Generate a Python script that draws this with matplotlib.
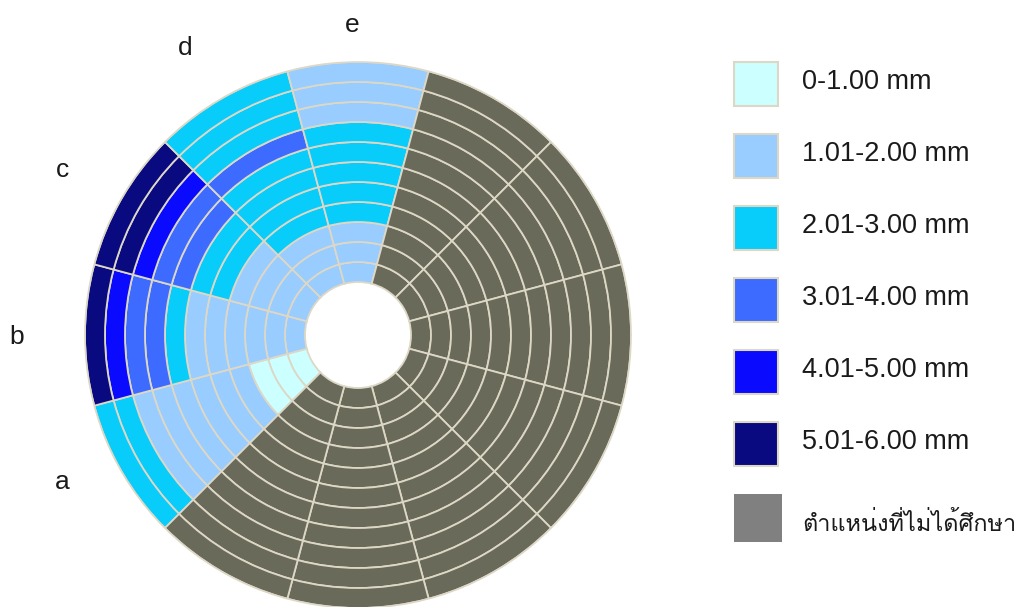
import matplotlib
matplotlib.use("Agg")
import matplotlib.pyplot as plt
from matplotlib import font_manager
from matplotlib.patches import Rectangle
import numpy as np

# Thickness classes, index used in the ring lists below
class_labels = ["0-1.00 mm", "1.01-2.00 mm", "2.01-3.00 mm", "3.01-4.00 mm",
                "4.01-5.00 mm", "5.01-6.00 mm", "ตำแหน่งที่ไม่ได้ศึกษา"]
class_colors = ["#CCFFFF", "#99CCFF", "#08CCFA", "#3D6BFF", "#0A0AFF", "#0A0A80", "#6A6A5B"]
legend_colors = class_colors[:-1] + ["#808080"]
NOT_STUDIED = 6

# Class of each ring, listed from the inner ring to the outer ring
sector_names = ["a", "b", "c", "d", "e"]
sector_a = [0, 0, 0, 1, 1, 1, 1, 1, 1, 2, 2]
sector_b = [1, 1, 1, 1, 1, 1, 2, 3, 3, 4, 5]
sector_c = [1, 1, 1, 1, 2, 2, 3, 3, 4, 5, 5]
sector_d = [1, 1, 1, 2, 2, 2, 2, 3, 2, 2, 2]
sector_e = [1, 1, 1, 2, 2, 2, 2, 2, 1, 1, 1]
N_SECTORS = 12
N_RINGS = 11

EDGE = "#DDD8C6"
HOLE = 2.65


def find_thai_family():
    # look for any installed font with Thai glyphs
    try:
        from fontTools.ttLib import TTFont
    except ImportError:
        return None
    for f in font_manager.fontManager.ttflist:
        try:
            font = TTFont(f.fname, fontNumber=0, lazy=True)
            cmap = font.getBestCmap()
        except Exception:
            continue
        if cmap and 0x0E15 in cmap and 0x0E32 in cmap:
            return f.name
    return None


families = ["Liberation Sans"]
thai = find_thai_family()
if thai:
    families.append(thai)
families.append("DejaVu Sans")
plt.rcParams["font.family"] = families

studied = [sector_a, sector_b, sector_c, sector_d, sector_e]
rings = studied + [[NOT_STUDIED] * N_RINGS] * (N_SECTORS - len(studied))

fig = plt.figure(figsize=(10.19, 6.07), dpi=100)
ax = fig.add_axes([85 / 1019, -1 / 607, 546 / 1019, 546 / 607], projection="polar")
ax.set_theta_zero_location("E")
ax.set_theta_direction(1)

width = 2 * np.pi / N_SECTORS
for i, sector in enumerate(rings):
    theta = np.deg2rad(210 - 30 * i)
    for k, cls in enumerate(sector):
        ax.bar(theta, 1, width=width, bottom=HOLE + k, color=class_colors[cls],
               edgecolor=EDGE, linewidth=1.3, align="center")

ax.set_ylim(0, HOLE + N_RINGS)
ax.grid(False)
ax.set_xticks([])
ax.set_yticks([])
ax.spines["polar"].set_color(EDGE)
ax.spines["polar"].set_linewidth(1.2)
ax.patch.set_alpha(0)

# sector labels (angle in degrees, radius in ring units)
label_pos = [(206.5, 16.5), (180.3, 17.05), (150.8, 16.9), (121.1, 16.75), (91.1, 15.5)]
for name, (ang, r) in zip(sector_names, label_pos):
    ax.text(np.deg2rad(ang), r, name, ha="center", va="center", fontsize=19, color="#1a1a1a")

# legend drawn on a pixel-coordinate overlay
lax = fig.add_axes([0, 0, 1, 1])
lax.set_xlim(0, 1019)
lax.set_ylim(607, 0)
lax.axis("off")
for i, (lab, col) in enumerate(zip(class_labels, legend_colors)):
    top = 62 + 72 * i
    if i < NOT_STUDIED:
        lax.add_patch(Rectangle((734, top), 44, 44, facecolor=col, edgecolor=EDGE, linewidth=1.5))
        lax.text(802, top + 27, lab, ha="left", va="baseline", fontsize=19.5, color="#1a1a1a")
    else:
        lax.add_patch(Rectangle((734, top), 48, 48, facecolor=col, edgecolor="none"))
        lax.text(802, top + 37, lab, ha="left", va="baseline", fontsize=16.9, color="#1a1a1a")

fig.savefig("out.png", dpi=100, facecolor="white")
